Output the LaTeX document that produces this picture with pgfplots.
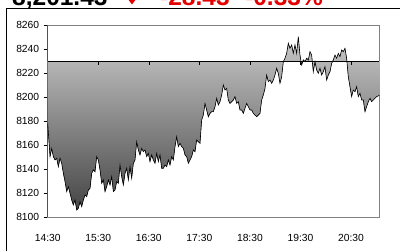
\documentclass[border=0pt]{standalone}
\usepackage{fontspec}
\setmainfont{Liberation Sans}
\usepackage{pgfplots}
\usepackage{pgfplotstable}
\pgfplotsset{compat=1.18}
\usepgfplotslibrary{fillbetween}
\definecolor{dnred}{RGB}{228,0,0}
\definecolor{bordergray}{RGB}{128,128,128}
\definecolor{shadetop}{RGB}{200,200,200}
\definecolor{shadebot}{RGB}{70,70,70}
% x: position in the intraday time scale (14:30 = 143, one hour = 151.7)
\pgfplotstableread{
x y
143 8178.2
150 8150.5
155 8157.4
160 8150.5
165 8147.7
170 8149.1
175 8142.1
180 8149.1
185 8144.9
190 8136.6
195 8129.7
200 8121.4
205 8125.5
210 8120.0
215 8114.4
220 8110.3
225 8114.4
230 8106.1
235 8107.5
240 8113.0
245 8108.9
250 8114.4
255 8118.6
260 8117.2
265 8122.7
270 8124.1
275 8136.6
280 8139.4
285 8138.0
290 8150.5
295 8147.7
300 8139.4
305 8128.3
310 8131.1
315 8121.4
320 8125.5
325 8131.1
330 8126.9
335 8133.8
340 8121.4
345 8122.7
350 8129.7
355 8128.3
360 8143.5
365 8133.8
370 8126.9
375 8136.6
380 8140.8
385 8131.1
390 8142.1
395 8132.4
400 8144.9
405 8147.7
410 8162.9
415 8156.0
420 8151.9
425 8157.4
430 8154.6
435 8156.0
440 8150.5
445 8153.2
450 8146.3
455 8151.9
460 8147.7
465 8144.9
470 8153.2
475 8146.3
480 8151.9
485 8140.8
490 8140.8
495 8143.5
500 8142.1
505 8147.7
510 8143.5
515 8150.5
520 8147.7
525 8158.8
530 8167.1
535 8158.8
540 8161.6
545 8158.8
550 8157.4
555 8151.9
560 8150.5
565 8144.9
570 8147.7
575 8150.5
580 8156.0
585 8154.6
590 8164.3
595 8162.9
600 8161.6
605 8181.0
610 8185.1
615 8194.8
620 8189.3
625 8183.7
630 8186.5
635 8187.9
640 8187.9
645 8192.1
650 8199.0
655 8193.5
660 8196.2
665 8201.8
670 8210.1
675 8205.9
680 8207.3
685 8197.6
690 8194.8
695 8196.2
700 8197.6
705 8200.4
710 8194.8
715 8196.2
720 8189.3
725 8189.3
730 8186.5
735 8190.7
740 8194.8
745 8192.1
750 8189.3
755 8189.3
760 8186.5
765 8185.1
770 8183.7
775 8185.1
780 8186.5
785 8197.6
790 8201.8
795 8207.3
800 8218.4
805 8212.9
810 8214.2
815 8211.5
820 8214.2
825 8218.4
830 8224.0
835 8219.8
840 8211.5
845 8217.0
850 8229.5
855 8232.3
860 8236.4
865 8244.8
870 8240.6
875 8243.4
880 8236.4
885 8243.4
890 8236.4
895 8250.3
900 8235.0
905 8226.7
910 8230.9
915 8229.5
920 8232.3
925 8230.9
930 8237.8
935 8235.0
940 8221.2
945 8229.5
950 8222.6
955 8219.8
960 8224.0
965 8218.4
970 8221.2
975 8225.3
980 8214.2
985 8218.4
990 8221.2
995 8228.1
1000 8230.9
1005 8235.0
1010 8232.3
1015 8236.4
1020 8233.7
1025 8239.2
1030 8237.8
1035 8240.6
1040 8232.3
1045 8217.0
1050 8208.7
1055 8200.4
1060 8205.9
1065 8204.5
1070 8208.7
1075 8200.4
1080 8203.2
1085 8197.6
1090 8197.6
1095 8187.9
1100 8192.1
1105 8196.2
1110 8199.0
1115 8196.2
1120 8197.6
1125 8199.0
1130 8200.4
1138 8201.43
}\pricetable
\pgfplotstableread{
x y
143 8229.86
1138 8229.86
}\basetable

\begin{document}
\begin{tikzpicture}[x=1pt,y=1pt]
\begin{pgfinterruptboundingbox}
% outer frame
\draw[black, line width=0.8pt] (6,-10) rectangle (410,242);
% title
\node[anchor=base west, inner sep=0pt, font=\bfseries\fontsize{24.5}{28}\selectfont] at (12,245) {8,201.43};
\fill[dnred] (126.5,253) -- (137.5,253) -- (132,245.5) -- cycle;
\fill[dnred] (130,253) rectangle (134,262);
\node[anchor=base west, inner sep=0pt, text=dnred, font=\bfseries\fontsize{24.5}{28}\selectfont] at (160,245) {-28.43};
\node[anchor=base west, inner sep=0pt, text=dnred, font=\bfseries\fontsize{24.5}{28}\selectfont] at (245,245) {-0.33\%};
\end{pgfinterruptboundingbox}
\begin{axis}[
  at={(47.7pt,32.7pt)}, anchor=south west,
  scale only axis, width=331.6pt, height=192.3pt,
  xmin=143, xmax=1138, ymin=8100, ymax=8260,
  xtick={143,294.7,446.4,598.1,749.8,901.5,1053.2},
  xticklabels={14:30,15:30,16:30,17:30,18:30,19:30,20:30},
  ytick={8100,8120,8140,8160,8180,8200,8220,8240,8260},
  ytick pos=left,
  xtick style={draw=none},
  ytick style={black, line width=0.6pt},
  tick align=outside,
  major tick length=4pt,
  axis line style={draw=bordergray, line width=0.7pt},
  ticklabel style={font=\fontsize{10.3}{12}\selectfont},
  xticklabel style={yshift=-9pt},
  yticklabel style={xshift=-1pt},
  /pgf/number format/.cd, 1000 sep={}, assume math mode=true,
]
\addplot[name path=base, draw=none, forget plot] table[x=x,y=y] {\basetable};
\addplot[name path=price, draw=none, forget plot] table[x=x,y=y] {\pricetable};
\addplot[top color=shadetop, bottom color=shadebot, draw=none] fill between[of=price and base];
\addplot[black, line width=0.6pt] table[x=x,y=y] {\pricetable};
\addplot[black, line width=1pt] table[x=x,y=y] {\basetable};
\pgfplotsinvokeforeach{294.7,446.4,598.1,749.8,901.5,1053.2}{
  \draw[black, line width=0.6pt] (axis cs:#1,8229.86) -- ([yshift=-3.5pt]axis cs:#1,8229.86);
}
\draw[black, line width=0.8pt] (rel axis cs:0,0) -- (rel axis cs:0,1);
\end{axis}
\useasboundingbox (0,0) rectangle (400,250);
\end{tikzpicture}
\end{document}
